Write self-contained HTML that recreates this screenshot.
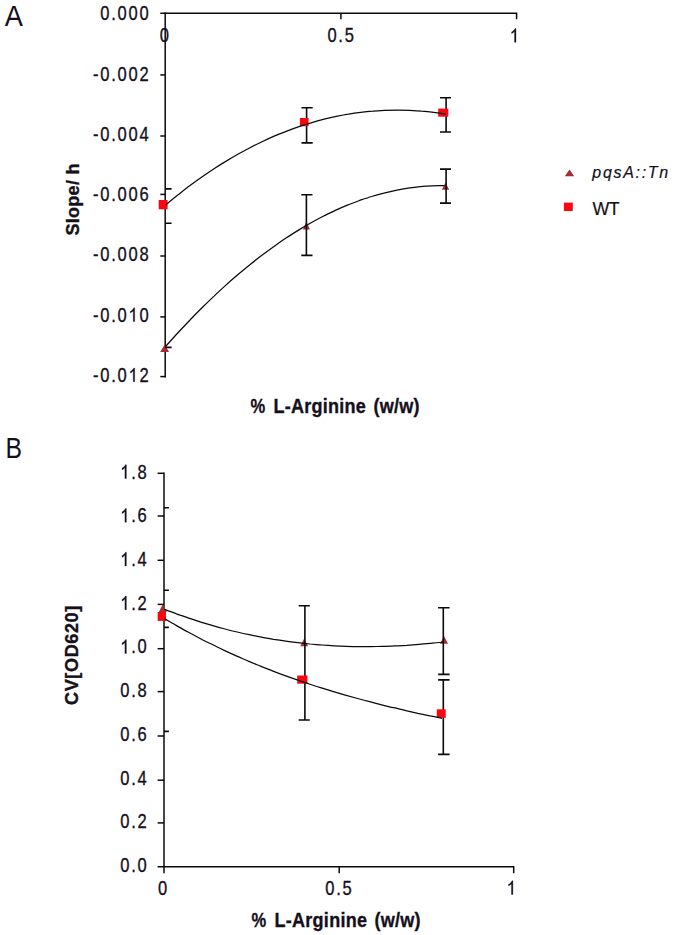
<!DOCTYPE html>
<html><head><meta charset="utf-8"><title>chart</title>
<style>html,body{margin:0;padding:0;background:#fff;}svg{display:block;}
text{font-family:"Liberation Sans",sans-serif;fill:#15101c;stroke:#15101c;stroke-width:0.35px;}
.t{font-size:20px;white-space:pre;}
.b{font-size:20.2px;font-weight:bold;letter-spacing:0.3px;}
.p{font-size:29.6px;stroke:none;}
</style></head><body>
<svg width="675" height="935" viewBox="0 0 675 935">
<rect width="675" height="935" fill="#fff"/>
<g stroke="#0a0a0a" stroke-width="1.5" fill="none">
<path d="M160.3,13.3 H516.6 V19.2"/>
<path d="M165.2,12.4 V377.5"/>
<path d="M340.9,13.3 V19.2"/>
<path d="M160.3,74.9 H165.2"/>
<path d="M160.3,136.0 H165.2"/>
<path d="M160.3,194.4 H165.2"/>
<path d="M160.3,256.0 H165.2"/>
<path d="M160.3,316.9 H165.2"/>
<path d="M160.3,376.6 H165.2"/>
</g>
<path d="M164.7,344.4 L169.1,351.9 L160.2,351.9 Z" fill="#a42d36"/>
<path d="M306.4,221.6 L309.9,229.5 L302.9,229.5 Z" fill="#a42d36"/>
<path d="M445.5,182.4 L449.1,189.8 L441.9,189.8 Z" fill="#a42d36"/>
<g stroke="#0a0a0a" stroke-width="1.6" fill="none">
<path d="M165.2,188.9 H171.6 M165.2,223.3 H171.6 M165.2,347.4 H171.6"/>
<path d="M306.6,107.7 V142.9 M301.5,107.7 H312.7 M301.5,142.9 H312.7"/>
<path d="M306.4,194.8 V255.4 M301.3,194.8 H312.5 M301.3,255.4 H312.5"/>
<path d="M446.1,97.7 V132.0 M440.0,97.7 H451.0 M440.0,132.0 H451.0"/>
<path d="M446.1,169.1 V203.1 M440.0,169.1 H451.0 M440.0,203.1 H451.0"/>
</g>
<rect x="158.7" y="200.0" width="8.9" height="9.3" fill="#fc0510"/>
<rect x="299.9" y="118.0" width="8.7" height="8.2" fill="#fc0510"/>
<rect x="438.2" y="108.6" width="10.1" height="8.1" fill="#fc0510"/>
<g stroke="#0a0a0a" stroke-width="1.25" fill="none" stroke-linejoin="round">
<path d="M165.6,205.0 C167.6,203.3 173.7,198.2 177.8,195.0 C181.9,191.8 185.9,188.6 190.0,185.6 C194.0,182.6 198.1,179.6 202.2,176.8 C206.2,174.0 210.3,171.2 214.4,168.5 C218.4,165.9 222.5,163.3 226.6,160.9 C230.6,158.4 234.7,156.0 238.7,153.7 C242.8,151.5 246.9,149.3 250.9,147.2 C255.0,145.1 259.1,143.1 263.1,141.2 C267.2,139.3 271.3,137.4 275.3,135.7 C279.4,134.0 283.4,132.3 287.5,130.8 C291.6,129.2 295.6,127.8 299.7,126.4 C303.8,125.0 307.8,123.8 311.9,122.6 C316.0,121.4 320.0,120.3 324.1,119.2 C328.2,118.2 332.2,117.3 336.3,116.4 C340.3,115.6 344.4,114.8 348.5,114.2 C352.5,113.5 356.6,112.9 360.7,112.4 C364.7,111.9 368.8,111.5 372.9,111.2 C376.9,110.8 381.0,110.6 385.0,110.4 C389.1,110.2 393.2,110.2 397.2,110.2 C401.3,110.2 405.4,110.2 409.4,110.4 C413.5,110.6 417.6,110.8 421.6,111.2 C425.7,111.5 429.7,111.9 433.8,112.4 C437.9,112.9 444.0,113.8 446.0,114.1"/>
<path d="M165.6,346.5 C167.6,344.2 173.7,337.4 177.7,333.0 C181.8,328.7 185.8,324.4 189.8,320.2 C193.9,316.0 197.9,311.8 202.0,307.8 C206.0,303.8 210.0,299.9 214.1,296.1 C218.1,292.2 222.2,288.5 226.2,284.9 C230.2,281.2 234.3,277.7 238.3,274.3 C242.4,270.8 246.4,267.5 250.5,264.2 C254.5,261.0 258.5,257.8 262.6,254.8 C266.6,251.7 270.7,248.7 274.7,245.9 C278.7,243.0 282.8,240.2 286.8,237.6 C290.9,234.9 294.9,232.4 298.9,229.9 C303.0,227.4 307.0,225.1 311.1,222.8 C315.1,220.5 319.1,218.4 323.2,216.3 C327.2,214.2 331.3,212.3 335.3,210.4 C339.3,208.6 343.4,206.8 347.4,205.2 C351.5,203.5 355.5,202.0 359.5,200.5 C363.6,199.1 367.6,197.7 371.7,196.5 C375.7,195.2 379.8,194.1 383.8,193.1 C387.8,192.0 391.9,191.1 395.9,190.3 C400.0,189.5 404.0,188.8 408.0,188.2 C412.1,187.6 416.1,187.1 420.2,186.7 C424.2,186.3 428.2,186.0 432.3,185.8 C436.3,185.7 442.4,185.7 444.4,185.6"/>
</g>
<g transform="translate(150.4,20.3) scale(0.827,1)"><text class="t" x="-60.54 -47.32 -39.66 -26.44 -13.22">0.000</text></g>
<g transform="translate(150.4,80.5) scale(0.827,1)"><text class="t" x="-69.30 -60.54 -47.32 -39.66 -26.44 -13.22">-0.002</text></g>
<g transform="translate(150.4,140.8) scale(0.827,1)"><text class="t" x="-69.30 -60.54 -47.32 -39.66 -26.44 -13.22">-0.004</text></g>
<g transform="translate(150.4,201.1) scale(0.827,1)"><text class="t" x="-69.30 -60.54 -47.32 -39.66 -26.44 -13.22">-0.006</text></g>
<g transform="translate(150.4,261.3) scale(0.827,1)"><text class="t" x="-69.30 -60.54 -47.32 -39.66 -26.44 -13.22">-0.008</text></g>
<g transform="translate(150.4,321.6) scale(0.827,1)"><text class="t" x="-69.30 -60.54 -47.32 -39.66 -26.44 -13.22">-0.0 0</text><path transform="translate(-26.44,0) scale(0.00977,-0.00935)" d="M763 0H583V1147Q518 1085 412.5 1023Q307 961 223 930V1104Q374 1175 487 1276Q600 1377 647 1472H763Z" fill="#15101c" stroke="#15101c" stroke-width="36"/></g>
<g transform="translate(150.4,381.8) scale(0.827,1)"><text class="t" x="-69.30 -60.54 -47.32 -39.66 -26.44 -13.22">-0.0 2</text><path transform="translate(-26.44,0) scale(0.00977,-0.00935)" d="M763 0H583V1147Q518 1085 412.5 1023Q307 961 223 930V1104Q374 1175 487 1276Q600 1377 647 1472H763Z" fill="#15101c" stroke="#15101c" stroke-width="36"/></g>
<g transform="translate(165.3,42.3) scale(0.827,1)"><text class="t" x="-6.61">0</text></g>
<g transform="translate(341.5,42.4) scale(0.827,1)"><text class="t" x="-17.05 -3.83 3.83">0.5</text></g>
<g transform="translate(515.3,42.3) scale(0.827,1)"><path transform="translate(-6.61,0) scale(0.00977,-0.00935)" d="M763 0H583V1147Q518 1085 412.5 1023Q307 961 223 930V1104Q374 1175 487 1276Q600 1377 647 1472H763Z" fill="#15101c" stroke="#15101c" stroke-width="36"/></g>
<text class="b" transform="translate(250.4,412.6) scale(0.820,1)">%</text>
<text class="b" transform="translate(273.4,412.6) scale(0.893,1)">L-Arginine</text>
<text class="b" transform="translate(373.4,412.6) scale(0.893,1)">(w/w)</text>
<text class="b" transform="translate(79.0,235.6) rotate(-90) scale(0.949,1)" style="font-size:19px">Slope/ h</text>
<text class="p" transform="translate(4.8,25.8) scale(0.918,1)">A</text>
<path d="M569.5,169.6 L574.2,176.3 L564.8,176.3 Z" fill="#a42d36"/>
<rect x="563.9" y="202.6" width="8.9" height="8.4" fill="#fc0510"/>
<text transform="translate(592.3,178.1)" style="font-size:16px;font-style:italic;letter-spacing:1.7px;stroke-width:0.2px;">pqsA::Tn</text>
<text transform="translate(592.5,215.1)" style="font-size:17.8px;letter-spacing:-0.6px;stroke-width:0.2px;">WT</text>
<g stroke="#0a0a0a" stroke-width="1.5" fill="none">
<path d="M164.0,472.4 V873.3"/>
<path d="M157.6,866.8 H513.7 V873.3"/>
<path d="M339.2,866.8 V873.3"/>
<path d="M157.6,473.3 H164.0"/>
<path d="M157.6,516.0 H164.0"/>
<path d="M157.6,560.3 H164.0"/>
<path d="M157.6,604.4 H164.0"/>
<path d="M157.6,648.7 H164.0"/>
<path d="M157.6,691.6 H164.0"/>
<path d="M157.6,736.0 H164.0"/>
<path d="M157.6,780.2 H164.0"/>
<path d="M157.6,822.9 H164.0"/>
</g>
<path d="M162.9,604.0 L166.9,612.0 L158.9,612.0 Z" fill="#a42d36"/>
<path d="M304.2,638.5 L308.1,646.2 L300.2,646.2 Z" fill="#a42d36"/>
<path d="M444.0,635.9 L448.0,643.7 L440.0,643.7 Z" fill="#a42d36"/>
<g stroke="#0a0a0a" stroke-width="1.6" fill="none">
<path d="M164.0,507.7 H168.9 M164.0,590.2 H168.9 M164.0,627.4 H168.9 M164.0,731.4 H168.9"/>
<path d="M304.9,605.7 V720.0 M298.7,605.7 H309.8 M298.7,720.0 H309.8"/>
<path d="M443.3,607.7 V674.4 M438.1,607.7 H449.6 M438.1,674.4 H449.6"/>
<path d="M443.3,679.9 V754.4 M438.1,679.9 H449.6 M438.1,754.4 H449.6"/>
</g>
<rect x="157.7" y="612.0" width="8.3" height="8.9" fill="#fc0510"/>
<rect x="297.2" y="675.5" width="10.2" height="8.2" fill="#fc0510"/>
<rect x="436.8" y="709.3" width="8.9" height="8.5" fill="#fc0510"/>
<g stroke="#0a0a0a" stroke-width="1.25" fill="none" stroke-linejoin="round">
<path d="M164.4,609.3 C166.4,610.0 172.5,612.4 176.5,613.9 C180.6,615.3 184.6,616.8 188.7,618.1 C192.7,619.5 196.7,620.8 200.8,622.1 C204.8,623.3 208.9,624.5 212.9,625.7 C216.9,626.9 221.0,628.0 225.0,629.0 C229.1,630.1 233.1,631.1 237.2,632.0 C241.2,633.0 245.2,633.9 249.3,634.7 C253.3,635.6 257.4,636.4 261.4,637.1 C265.5,637.9 269.5,638.6 273.5,639.3 C277.6,639.9 281.6,640.5 285.7,641.1 C289.7,641.7 293.7,642.2 297.8,642.7 C301.8,643.1 305.9,643.6 309.9,644.0 C314.0,644.3 318.0,644.7 322.0,645.0 C326.1,645.3 330.1,645.5 334.2,645.8 C338.2,646.0 342.2,646.1 346.3,646.3 C350.3,646.4 354.4,646.5 358.4,646.5 C362.5,646.6 366.5,646.6 370.5,646.6 C374.6,646.5 378.6,646.5 382.7,646.4 C386.7,646.3 390.8,646.1 394.8,645.9 C398.8,645.8 402.9,645.5 406.9,645.3 C411.0,645.0 415.0,644.7 419.0,644.4 C423.1,644.1 427.1,643.7 431.2,643.3 C435.2,642.9 441.3,642.3 443.3,642.0"/>
<path d="M164.4,618.6 C166.4,619.7 172.4,623.3 176.5,625.6 C180.5,627.9 184.5,630.1 188.5,632.3 C192.6,634.5 196.6,636.6 200.6,638.7 C204.6,640.8 208.7,642.8 212.7,644.8 C216.7,646.8 220.7,648.7 224.7,650.6 C228.8,652.5 232.8,654.3 236.8,656.1 C240.8,657.9 244.9,659.6 248.9,661.4 C252.9,663.1 256.9,664.7 261.0,666.4 C265.0,668.0 269.0,669.6 273.0,671.1 C277.0,672.7 281.1,674.2 285.1,675.6 C289.1,677.1 293.1,678.5 297.2,679.9 C301.2,681.3 305.2,682.7 309.2,684.0 C313.3,685.4 317.3,686.7 321.3,687.9 C325.3,689.2 329.4,690.4 333.4,691.6 C337.4,692.8 341.4,694.0 345.4,695.2 C349.5,696.3 353.5,697.4 357.5,698.5 C361.5,699.6 365.6,700.7 369.6,701.7 C373.6,702.8 377.6,703.8 381.7,704.8 C385.7,705.8 389.7,706.8 393.7,707.7 C397.7,708.7 401.8,709.6 405.8,710.6 C409.8,711.5 413.8,712.4 417.9,713.3 C421.9,714.1 425.9,715.0 429.9,715.9 C434.0,716.7 440.0,717.9 442.0,718.4"/>
</g>
<g transform="translate(148.4,478.5) scale(0.827,1)"><text class="t" x="-34.10 -20.88 -13.22"> .8</text><path transform="translate(-34.10,0) scale(0.00977,-0.00935)" d="M763 0H583V1147Q518 1085 412.5 1023Q307 961 223 930V1104Q374 1175 487 1276Q600 1377 647 1472H763Z" fill="#15101c" stroke="#15101c" stroke-width="36"/></g>
<g transform="translate(148.4,522.2) scale(0.827,1)"><text class="t" x="-34.10 -20.88 -13.22"> .6</text><path transform="translate(-34.10,0) scale(0.00977,-0.00935)" d="M763 0H583V1147Q518 1085 412.5 1023Q307 961 223 930V1104Q374 1175 487 1276Q600 1377 647 1472H763Z" fill="#15101c" stroke="#15101c" stroke-width="36"/></g>
<g transform="translate(148.4,566.0) scale(0.827,1)"><text class="t" x="-34.10 -20.88 -13.22"> .4</text><path transform="translate(-34.10,0) scale(0.00977,-0.00935)" d="M763 0H583V1147Q518 1085 412.5 1023Q307 961 223 930V1104Q374 1175 487 1276Q600 1377 647 1472H763Z" fill="#15101c" stroke="#15101c" stroke-width="36"/></g>
<g transform="translate(148.4,609.7) scale(0.827,1)"><text class="t" x="-34.10 -20.88 -13.22"> .2</text><path transform="translate(-34.10,0) scale(0.00977,-0.00935)" d="M763 0H583V1147Q518 1085 412.5 1023Q307 961 223 930V1104Q374 1175 487 1276Q600 1377 647 1472H763Z" fill="#15101c" stroke="#15101c" stroke-width="36"/></g>
<g transform="translate(148.4,653.4) scale(0.827,1)"><text class="t" x="-34.10 -20.88 -13.22"> .0</text><path transform="translate(-34.10,0) scale(0.00977,-0.00935)" d="M763 0H583V1147Q518 1085 412.5 1023Q307 961 223 930V1104Q374 1175 487 1276Q600 1377 647 1472H763Z" fill="#15101c" stroke="#15101c" stroke-width="36"/></g>
<g transform="translate(148.4,697.1) scale(0.827,1)"><text class="t" x="-34.10 -20.88 -13.22">0.8</text></g>
<g transform="translate(148.4,740.9) scale(0.827,1)"><text class="t" x="-34.10 -20.88 -13.22">0.6</text></g>
<g transform="translate(148.4,784.6) scale(0.827,1)"><text class="t" x="-34.10 -20.88 -13.22">0.4</text></g>
<g transform="translate(148.4,828.3) scale(0.827,1)"><text class="t" x="-34.10 -20.88 -13.22">0.2</text></g>
<g transform="translate(148.4,872.1) scale(0.827,1)"><text class="t" x="-34.10 -20.88 -13.22">0.0</text></g>
<g transform="translate(163.4,894.6) scale(0.827,1)"><text class="t" x="-6.61">0</text></g>
<g transform="translate(339.3,894.6) scale(0.827,1)"><text class="t" x="-17.05 -3.83 3.83">0.5</text></g>
<g transform="translate(512.2,894.6) scale(0.827,1)"><path transform="translate(-6.61,0) scale(0.00977,-0.00935)" d="M763 0H583V1147Q518 1085 412.5 1023Q307 961 223 930V1104Q374 1175 487 1276Q600 1377 647 1472H763Z" fill="#15101c" stroke="#15101c" stroke-width="36"/></g>
<text class="b" transform="translate(251.5,926.5) scale(0.820,1)">%</text>
<text class="b" transform="translate(274.5,926.5) scale(0.893,1)">L-Arginine</text>
<text class="b" transform="translate(374.5,926.5) scale(0.893,1)">(w/w)</text>
<text class="b" transform="translate(78.3,704.9) rotate(-90) scale(0.949,1)" style="font-size:19px;letter-spacing:0.65px">CV[OD620]</text>
<text class="p" transform="translate(5.4,458.2) scale(0.838,1)">B</text>
</svg></body></html>
